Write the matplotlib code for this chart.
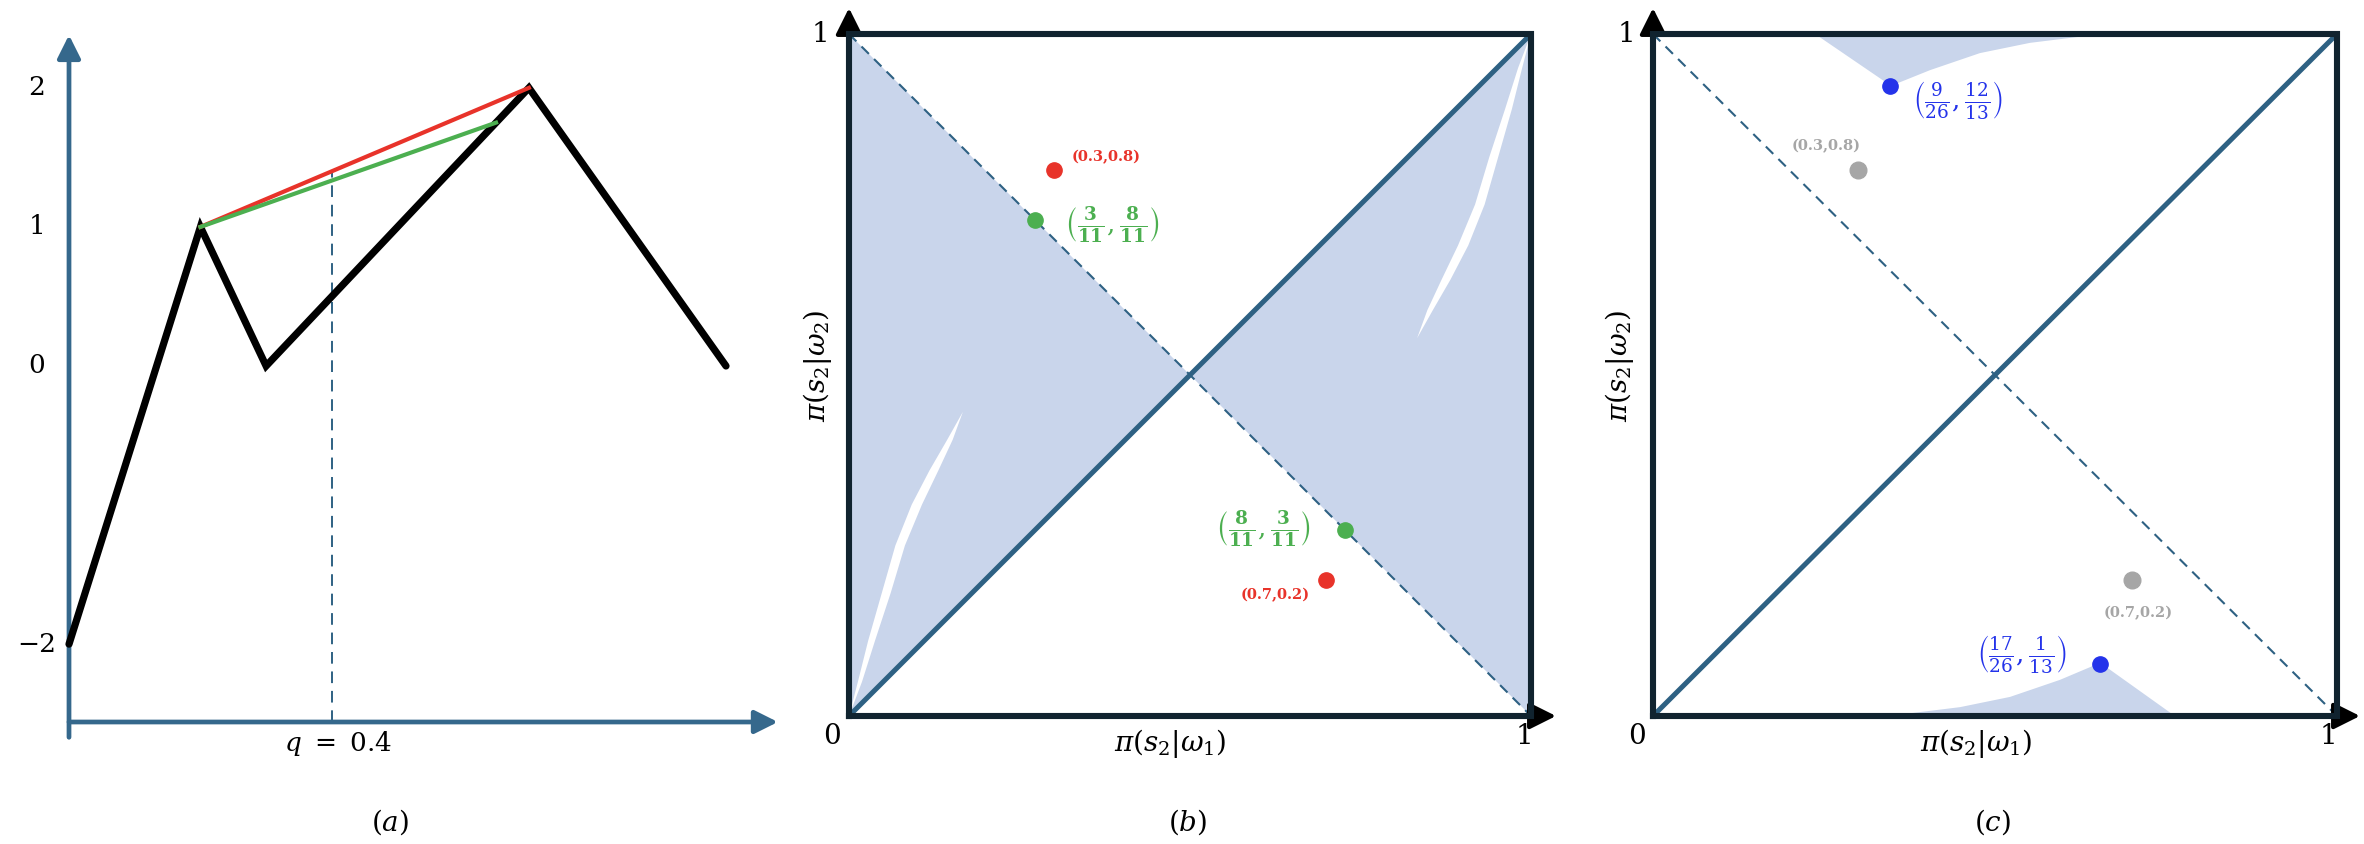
import matplotlib
matplotlib.use("Agg")
import matplotlib.pyplot as plt

plt.rcParams['font.family'] = 'DejaVu Serif'
plt.rcParams['mathtext.fontset'] = 'dejavuserif'

# panel (a): value of the game against belief q
payoff_q = [0.0, 0.2, 0.3, 0.7, 1.0]
payoff_v = [-2, 1, 0, 2, 0]
red_q = [0.2, 0.7]
red_v = [1, 2]
green_q = [0.2, 0.65]
green_v = [1, 1.75]
q_mark = 0.4
q_mark_top = 1.4
a_ticks = [2, 1, 0, -2]
a_tick_labels = ['2', '1', '0', '\u22122']

# panel (b)
b_red_x = [0.3, 0.7]
b_red_y = [0.8, 0.2]
b_green_x = [3 / 11, 8 / 11]
b_green_y = [8 / 11, 3 / 11]
# white slivers inside the shaded triangles
sliver_lo_x = [0.0, 0.013, 0.028, 0.048, 0.068, 0.092, 0.118, 0.144, 0.167,
               0.152, 0.131, 0.107, 0.082, 0.061, 0.038, 0.019, 0.0]
sliver_lo_y = [0.0, 0.050, 0.110, 0.180, 0.250, 0.310, 0.360, 0.405, 0.446,
               0.405, 0.360, 0.310, 0.250, 0.180, 0.110, 0.050, 0.0]
sliver_hi_x = [1.0, 0.987, 0.972, 0.952, 0.932, 0.908, 0.882, 0.856, 0.833,
               0.848, 0.869, 0.893, 0.918, 0.939, 0.962, 0.981, 1.0]
sliver_hi_y = [1.0, 0.950, 0.890, 0.820, 0.750, 0.690, 0.640, 0.595, 0.554,
               0.595, 0.640, 0.690, 0.750, 0.820, 0.890, 0.950, 1.0]

# panel (c)
c_grey_x = [0.3, 0.7]
c_grey_y = [0.8, 0.2]
c_blue_x = [9 / 26, 17 / 26]
c_blue_y = [12 / 13, 1 / 13]
c_top_x = [0.237, 0.348, 0.405, 0.478, 0.551, 0.624, 0.700]
c_top_y = [1.0, 0.924, 0.947, 0.972, 0.987, 0.996, 1.0]
c_bot_x = [0.763, 0.654, 0.595, 0.522, 0.449, 0.376, 0.300]
c_bot_y = [0.0, 0.078, 0.053, 0.028, 0.013, 0.004, 0.0]

W, H = 2364, 844
AX_BLUE = '#35688c'
LINE_BLUE = '#2e6183'
BORDER = '#10232f'
FILL = '#c9d5eb'
RED = '#e8332a'
GREEN = '#4caf50'
BLUE = '#2433ea'
GREY = '#a6a6a6'


def fx(px):
    return px / W


def fy(py):
    return 1 - py / H


def box(left, top, right, bottom):
    return [fx(left), fy(bottom), (right - left) / W, (bottom - top) / H]


fig = plt.figure(figsize=(W / 100, H / 100), dpi=100)

# ---------------- (a) ----------------
ax = fig.add_axes(box(69, 35, 726, 722))
ax.set_xlim(0, 1)
ax.set_ylim(-2.56, 2.38)
ax.axis('off')
arrow_kw = dict(arrowstyle='-|>,head_length=0.7,head_width=0.35', color=AX_BLUE,
                lw=3.4, mutation_scale=20, shrinkA=0, shrinkB=0)
ax.annotate('', xy=(0, 2.38), xytext=(0, -2.67), arrowprops=arrow_kw,
            annotation_clip=False)
ax.annotate('', xy=(1.079, -2.56), xytext=(0, -2.56), arrowprops=arrow_kw,
            annotation_clip=False)
ax.plot([q_mark, q_mark], [-2.56, q_mark_top], color=LINE_BLUE, lw=1.4,
        dashes=(6, 4), clip_on=False)
ax.plot(payoff_q, payoff_v, color='black', lw=5.2, solid_joinstyle='miter',
        solid_capstyle='round', clip_on=False, zorder=3)
ax.plot(red_q, red_v, color=RED, lw=3.0, clip_on=False, zorder=4)
ax.plot(green_q, green_v, color=GREEN, lw=3.0, clip_on=False, zorder=4)
for t, lab in zip(a_ticks, a_tick_labels):
    ax.text(-0.049, t, lab, ha='center', va='center', fontsize=19)
fig.text(fx(338), fy(744), r'$q\ =\ 0.4$', ha='center', va='center', fontsize=19)
fig.text(fx(390), fy(822), r'$(a)$', ha='center', va='center', fontsize=20)


def unit_square(axis, left, right, tip_x_px):
    axis.set_xlim(0, 1)
    axis.set_ylim(0, 1)
    axis.axis('off')
    axis.plot([0, 1], [0, 1], color=LINE_BLUE, lw=3.6, zorder=3)
    axis.plot([0, 1], [1, 0], color=LINE_BLUE, lw=1.5, dashes=(5, 3.5), zorder=3)
    axis.plot([0, 1, 1, 0, 0], [0, 0, 1, 1, 0], color=BORDER, lw=4.4,
              solid_joinstyle='miter', clip_on=False, zorder=5)
    kw = dict(arrowstyle='-|>,head_length=0.8,head_width=0.4', color='black',
              lw=3, mutation_scale=20, shrinkA=0, shrinkB=0)
    axis.annotate('', xy=(0, (716 - 8) / 682), xytext=(0, 0.9), arrowprops=kw,
                  annotation_clip=False)
    axis.annotate('', xy=((tip_x_px - left) / (right - left), 0), xytext=(0.9, 0),
                  arrowprops=kw, annotation_clip=False)


FRAC = 19

# ---------------- (b) ----------------
bx = fig.add_axes(box(849, 34, 1531, 716))
bx.fill([0, 0, 0.5], [0, 1, 0.5], color=FILL, lw=0, zorder=1)
bx.fill([1, 1, 0.5], [0, 1, 0.5], color=FILL, lw=0, zorder=1)
bx.fill(sliver_lo_x, sliver_lo_y, color='white', lw=0, zorder=2)
bx.fill(sliver_hi_x, sliver_hi_y, color='white', lw=0, zorder=2)
unit_square(bx, 849, 1531, 1556)
bx.plot(b_red_x, b_red_y, 'o', color=RED, ms=11, zorder=6)
bx.plot(b_green_x, b_green_y, 'o', color=GREEN, ms=11, zorder=6)
bx.text(0.327, 0.82, '(0.3,0.8)', color=RED, fontsize=10.5, fontweight='bold',
        ha='left', va='center')
bx.text(0.625, 0.177, '(0.7,0.2)', color=RED, fontsize=10.5, fontweight='bold',
        ha='center', va='center')
bx.text(0.315, 0.718, r'$\left(\frac{\mathbf{3}}{\mathbf{11}},\frac{\mathbf{8}}{\mathbf{11}}\right)$',
        color=GREEN, fontsize=FRAC, ha='left', va='center')
bx.text(0.677, 0.273, r'$\left(\frac{\mathbf{8}}{\mathbf{11}},\frac{\mathbf{3}}{\mathbf{11}}\right)$',
        color=GREEN, fontsize=FRAC, ha='right', va='center')
fig.text(fx(1170), fy(743), r'$\pi(s_2|\omega_1)$', ha='center', va='center', fontsize=20)
fig.text(fx(817), fy(366), r'$\pi(s_2|\omega_2)$', ha='center', va='center',
         fontsize=20, rotation=90)
fig.text(fx(832), fy(737), '0', ha='center', va='center', fontsize=20)
fig.text(fx(1524), fy(737), '1', ha='center', va='center', fontsize=20)
fig.text(fx(820), fy(34), '1', ha='center', va='center', fontsize=20)
fig.text(fx(1188), fy(822), r'$(b)$', ha='center', va='center', fontsize=20)

# ---------------- (c) ----------------
cx = fig.add_axes(box(1653, 34, 2337, 716))
cx.fill(c_top_x, c_top_y, color=FILL, lw=0, zorder=1)
cx.fill(c_bot_x, c_bot_y, color=FILL, lw=0, zorder=1)
unit_square(cx, 1653, 2337, 2360)
cx.plot(c_grey_x, c_grey_y, 'o', color=GREY, ms=12, zorder=6)
cx.plot(c_blue_x, c_blue_y, 'o', color=BLUE, ms=11, zorder=6)
cx.text(0.253, 0.836, '(0.3,0.8)', color=GREY, fontsize=10.5, fontweight='bold',
        ha='center', va='center')
cx.text(0.709, 0.151, '(0.7,0.2)', color=GREY, fontsize=10.5, fontweight='bold',
        ha='center', va='center')
cx.text(0.380, 0.903, r'$\left(\frac{9}{26},\frac{12}{13}\right)$',
        color=BLUE, fontsize=FRAC, ha='left', va='center')
cx.text(0.605, 0.091, r'$\left(\frac{17}{26},\frac{1}{13}\right)$',
        color=BLUE, fontsize=FRAC, ha='right', va='center')
fig.text(fx(1976), fy(743), r'$\pi(s_2|\omega_1)$', ha='center', va='center', fontsize=20)
fig.text(fx(1620), fy(366), r'$\pi(s_2|\omega_2)$', ha='center', va='center',
         fontsize=20, rotation=90)
fig.text(fx(1637), fy(737), '0', ha='center', va='center', fontsize=20)
fig.text(fx(2328), fy(737), '1', ha='center', va='center', fontsize=20)
fig.text(fx(1626), fy(34), '1', ha='center', va='center', fontsize=20)
fig.text(fx(1992), fy(822), r'$(c)$', ha='center', va='center', fontsize=20)

fig.savefig('out.png', dpi=100)
